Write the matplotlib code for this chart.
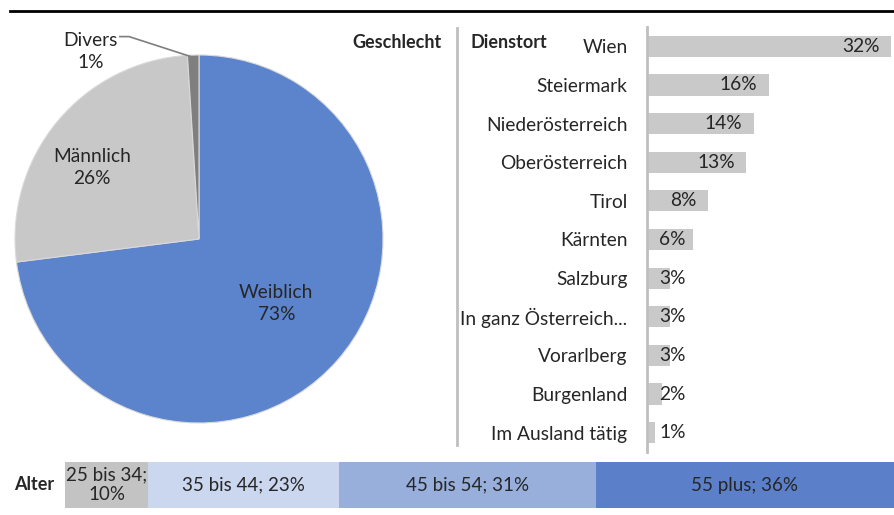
import numpy as np
import matplotlib
matplotlib.use('Agg')
import matplotlib.pyplot as plt

plt.rcParams['font.family'] = ['Lato', 'DejaVu Sans']

# Data
gender_labels = ['Weiblich', 'Männlich', 'Divers']
gender_values = [73, 26, 1]
gender_colors = ['#5B84CD', '#C8C8C8', '#7F7F7F']

places = ['Wien', 'Steiermark', 'Niederösterreich', 'Oberösterreich', 'Tirol',
          'Kärnten', 'Salzburg', 'In ganz Österreich...', 'Vorarlberg',
          'Burgenland', 'Im Ausland tätig']
place_values = [32, 16, 14, 13, 8, 6, 3, 3, 3, 2, 1]

age_labels = ['25 bis 34;\n10%', '35 bis 44; 23%', '45 bis 54; 31%', '55 plus; 36%']
age_values = [10, 23, 31, 36]
age_colors = ['#C3C3C3', '#CBD6EF', '#98AFDC', '#5B7FC8']

W, H = 894, 515
fig = plt.figure(figsize=(W / 100, H / 100), dpi=100)
text_col = '#262626'
fs = 13.8


def px(x0, y0, x1, y1):
    # pixel box -> figure fraction rect
    return [x0 / W, 1 - y1 / H, (x1 - x0) / W, (y1 - y0) / H]


# top rule
fig.add_artist(plt.Line2D([10 / W, 1], [1 - 11 / H] * 2, color='black', lw=2))

# pie
ax_pie = fig.add_axes(px(15, 55, 383, 423))
ax_pie.pie(gender_values, colors=gender_colors, startangle=90, counterclock=False,
           radius=1, wedgeprops=dict(edgecolor='#D9D9D9', linewidth=0.8))
ax_pie.set_xlim(-1, 1)
ax_pie.set_ylim(-1, 1)
ax_pie.set_aspect('equal')
ax_pie.axis('off')
ax_pie.text(0.42, -0.35, f'{gender_labels[0]}\n{gender_values[0]}%', ha='center', va='center',
            fontsize=fs, color=text_col, linespacing=1.35)
ax_pie.text(-0.58, 0.39, f'{gender_labels[1]}\n{gender_values[1]}%', ha='center', va='center',
            fontsize=fs, color=text_col, linespacing=1.35)
ax_pie.text(-0.59, 1.02, f'{gender_labels[2]}\n{gender_values[2]}%', ha='center', va='center',
            fontsize=fs, color=text_col, linespacing=1.35, clip_on=False)
ax_pie.plot([-0.43, -0.38, -0.04], [1.10, 1.10, 0.99], color='#7F7F7F', lw=1.2, clip_on=False)
fig.text(442 / W, 1 - 42 / H, 'Geschlecht', fontsize=13, fontweight='bold',
         color=text_col, va='center', ha='right')

# separator
fig.add_artist(plt.Line2D([457 / W] * 2, [1 - 28 / H, 1 - 445 / H], color='#BFBFBF', lw=2))

# bar chart
ax_bar = fig.add_axes(px(647, 27, 891, 452))
y = np.arange(len(places))
ax_bar.barh(y, place_values, height=0.55, color='#C9C9C9')
ax_bar.set_xlim(0, 32)
ax_bar.set_ylim(len(places) - 0.5, -0.5)
ax_bar.set_yticks(y)
ax_bar.set_yticklabels(places, fontsize=fs, color=text_col)
ax_bar.tick_params(axis='y', length=0, pad=14)
ax_bar.set_xticks([])
for s in ['top', 'right', 'bottom']:
    ax_bar.spines[s].set_visible(False)
ax_bar.spines['left'].set_color('#BFBFBF')
ax_bar.spines['left'].set_linewidth(2)
for yi, v in zip(y, place_values):
    ax_bar.text(max(v - 1.5, 5.1), yi, f'{v}%', ha='right', va='center',
                fontsize=fs, color=text_col)
fig.text(470 / W, 1 - 42 / H, 'Dienstort', fontsize=13, fontweight='bold',
         color=text_col, va='center', ha='left')

# age stacked bar
ax_age = fig.add_axes(px(65, 462, 894, 508))
left = 0
for lab, v, c in zip(age_labels, age_values, age_colors):
    ax_age.barh(0, v, left=left, height=1, color=c)
    ax_age.text(left + v / 2, 0, lab, ha='center', va='center', fontsize=13.5,
                color=text_col, linespacing=1.2)
    left += v
ax_age.set_xlim(0, 100)
ax_age.set_ylim(-0.5, 0.5)
ax_age.axis('off')
fig.text(14 / W, 1 - 485 / H, 'Alter', fontsize=13, fontweight='bold',
         color=text_col, va='center', ha='left')

fig.savefig('out.png', dpi=100)
